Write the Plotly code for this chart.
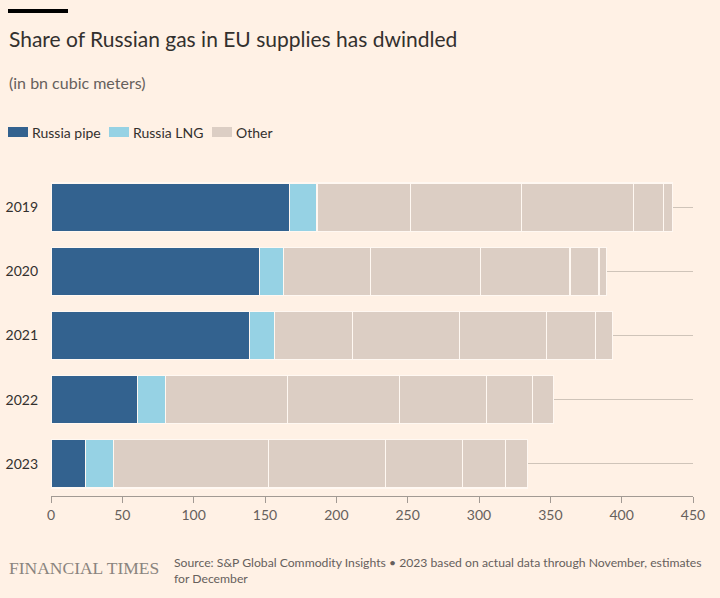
import plotly.graph_objects as go

years = ["2019", "2020", "2021", "2022", "2023"]
russia_pipe = [167.4, 146.4, 139.4, 60.5, 24.3]
russia_lng = [19.0, 16.4, 17.1, 19.8, 19.6]
# "Other" supplies are shown as several same-coloured sub-segments
other_1 = [65.6, 61.4, 54.6, 85.7, 108.8]
other_2 = [77.7, 77.0, 75.0, 78.5, 81.8]
other_3 = [78.5, 62.6, 61.2, 61.0, 53.7]
other_4 = [21.0, 20.3, 34.3, 32.0, 30.1]
other_5 = [6.3, 5.2, 11.7, 14.9, 15.9]
x_ticks = [0, 50, 100, 150, 200, 250, 300, 350, 400, 450]

BG = "#FFF1E5"
C_PIPE = "#33628F"
C_LNG = "#96D2E4"
C_OTHER = "#DCCEC4"
FONT = "Lato"

L, R, T, B = 51, 27, 175, 102
W, H = 720, 598
PW, PH = W - L - R, H - T - B


def px(x):
    return (x - L) / PW


def py(y):
    return (H - B - y) / PH


fig = go.Figure()
series = [
    ("Russia pipe", russia_pipe, C_PIPE),
    ("Russia LNG", russia_lng, C_LNG),
    ("Other", other_1, C_OTHER),
    ("Other", other_2, C_OTHER),
    ("Other", other_3, C_OTHER),
    ("Other", other_4, C_OTHER),
    ("Other", other_5, C_OTHER),
]
for name, vals, col in series:
    fig.add_trace(go.Bar(
        y=years, x=vals, orientation="h", name=name,
        marker=dict(color=col, line=dict(color="#FFF8F2", width=1.2)),
        showlegend=False,
    ))

fig.update_layout(
    barmode="stack",
    bargap=0.25,
    width=W, height=H,
    margin=dict(l=L, r=R, t=T, b=B, autoexpand=False),
    paper_bgcolor=BG, plot_bgcolor=BG,
    font=dict(family=FONT, color="#33302E"),
    showlegend=False,
)
fig.update_xaxes(
    range=[0, 450], tickvals=x_ticks, ticktext=[str(v) for v in x_ticks],
    showgrid=False, zeroline=False, automargin=False,
    showline=True, linecolor="#A29A93", linewidth=1,
    ticks="outside", ticklen=6, tickcolor="#A29A93",
    tickfont=dict(size=14, color="#66605C", family=FONT),
)
fig.update_yaxes(
    categoryorder="array", categoryarray=years[::-1],
    range=[-0.5, 4.5], automargin=False,
    showgrid=True, gridcolor="#CFC4B9", gridwidth=1,
    zeroline=False, showline=False, ticks="",
    ticklabelstandoff=12,
    tickfont=dict(size=14, color="#33302E", family=FONT),
)

# top black bar
fig.add_shape(type="rect", xref="paper", yref="paper",
              x0=px(8), x1=px(68), y0=py(13), y1=py(9),
              fillcolor="#000000", line_width=0)

annots = [
    dict(text="Share of Russian gas in EU supplies has dwindled", x=px(7), y=py(39),
         size=21, color="#33302E"),
    dict(text="(in bn cubic meters)", x=px(7), y=py(83), size=16, color="#66605C"),
]
for a in annots:
    fig.add_annotation(text=a["text"], xref="paper", yref="paper", x=a["x"], y=a["y"],
                       xanchor="left", yanchor="middle", showarrow=False,
                       font=dict(size=a["size"], color=a["color"], family=FONT))

# legend
legend_items = [("Russia pipe", C_PIPE, 8), ("Russia LNG", C_LNG, 109), ("Other", C_OTHER, 212)]
for label, col, x0 in legend_items:
    fig.add_shape(type="rect", xref="paper", yref="paper",
                  x0=px(x0), x1=px(x0 + 20), y0=py(137), y1=py(127),
                  fillcolor=col, line_width=0)
    fig.add_annotation(text=label, xref="paper", yref="paper", x=px(x0 + 22), y=py(132),
                       xanchor="left", yanchor="middle", showarrow=False,
                       font=dict(size=14, color="#33302E", family=FONT))

# footer
fig.add_annotation(text="FINANCIAL TIMES", xref="paper", yref="paper", x=px(7), y=py(568),
                   xanchor="left", yanchor="middle", showarrow=False,
                   font=dict(size=17.5, color="#8A847E", family="Liberation Serif"))
fig.add_annotation(
    text="Source: S&P Global Commodity Insights \u2022 2023 based on actual data through November, estimates<br>for December",
    xref="paper", yref="paper", x=px(172), y=py(570), xanchor="left", yanchor="middle",
    align="left", showarrow=False,
    font=dict(size=12.2, color="#66605C", family=FONT))

fig.write_html("out.html", config={"displayModeBar": False},
               post_script="document.body.style.margin='0';")
